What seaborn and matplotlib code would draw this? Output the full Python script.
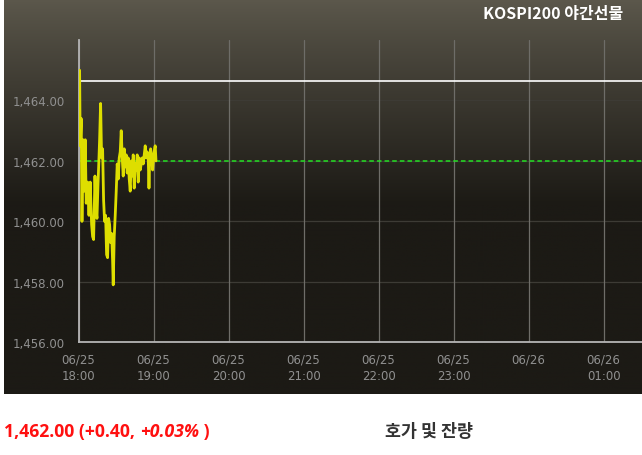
import numpy as np
import pandas as pd
import matplotlib
matplotlib.use("Agg")
import matplotlib.pyplot as plt
import seaborn as sns

# ---- data ----
minutes = [0.8, 1.3, 2.1, 2.7, 3.5, 4.5, 5.3, 6.1, 7.2, 8.3, 9.3, 10.4, 11.2, 12.0,
           13.1, 13.9, 14.7, 15.5, 16.3, 16.8, 17.6, 18.4, 19.2, 20.0, 20.8, 21.6,
           22.4, 23.2, 24.0, 24.8, 25.6, 26.4, 27.2, 27.7, 28.5, 29.3, 30.1, 30.9,
           31.7, 32.5, 33.3, 34.1, 34.9, 35.7, 36.5, 37.3, 38.1, 38.9, 39.7, 40.5,
           41.3, 42.1, 42.9, 43.7, 44.5, 45.3, 46.1, 46.9, 47.7, 48.5, 49.3, 50.1,
           50.9, 51.7, 52.5, 53.3, 54.1, 54.9, 55.7, 56.3, 56.8, 57.6, 58.4, 59.2,
           60.0, 60.8, 61.3, 61.9]
prices = [1465.0, 1462.5, 1463.4, 1460.0, 1462.7, 1461.0, 1462.7, 1460.6, 1461.3,
          1460.2, 1461.3, 1459.9, 1459.5, 1459.4, 1461.5, 1460.4, 1460.1, 1461.2,
          1462.1, 1462.7, 1463.9, 1462.1, 1462.4, 1460.7, 1460.0, 1460.2, 1458.9,
          1458.8, 1460.1, 1459.9, 1459.3, 1459.6, 1458.7, 1457.9, 1459.5, 1460.2,
          1461.0, 1461.9, 1461.4, 1462.1, 1462.3, 1463.0, 1462.1, 1461.5, 1462.4,
          1461.8, 1462.2, 1461.6, 1462.1, 1461.4, 1461.0, 1462.0, 1461.5, 1462.2,
          1461.1, 1461.9, 1461.7, 1462.2, 1461.3, 1462.1, 1461.7, 1461.9, 1462.1,
          1461.9, 1462.2, 1462.5, 1462.1, 1462.3, 1462.1, 1461.1, 1461.9, 1462.4,
          1462.2, 1461.7, 1462.1, 1462.4, 1462.5, 1462.0]
prev_close = 1462.0
high_line = 1464.63
y_ticks = [1456, 1458, 1460, 1462, 1464, 1466]
y_labels = ["1,456.00", "1,458.00", "1,460.00", "1,462.00", "1,464.00", ""]
x_ticks = [0, 60, 120, 180, 240, 300, 360, 420]
x_labels = ["06/25\n18:00", "06/25\n19:00", "06/25\n20:00", "06/25\n21:00",
            "06/25\n22:00", "06/25\n23:00", "06/26\n", "06/26\n01:00"]
title = "KOSPI200 야간선물"
price_text = "1,462.00 (+0.40, "
pct_text = "+0.03%"
close_paren = " )"
right_label = "호가 및 잔량"

df = pd.DataFrame({"minute": minutes, "price": prices})

sns.set_theme(style="dark")
plt.rcParams['font.family'] = ['Noto Sans CJK KR', 'DejaVu Sans']

W, H = 642, 456
fig = plt.figure(figsize=(W / 100, H / 100), dpi=100)
fig.patch.set_facecolor("white")

def px(x0, y0, x1, y1):
    return [x0 / W, 1 - y1 / H, (x1 - x0) / W, (y1 - y0) / H]

# background gradient panel
bg = fig.add_axes(px(4, 0, 642, 395))
top = np.array([92, 88, 76]) / 255
bot = np.array([28, 26, 21]) / 255
yy = np.linspace(0, 1, 400)
frac = np.clip(yy / 0.52, 0, 1) ** 0.9
grad = (top[None, :] * (1 - frac[:, None]) + bot[None, :] * frac[:, None])
grad = np.repeat(grad[:, None, :], 2, axis=1)
bg.imshow(grad, aspect="auto", extent=[0, 1, 0, 1])
bg.set_axis_off()

# main axes
x_left, x_right = 78.6, 642
y_top, y_bot = 41, 343.3
ax = fig.add_axes(px(x_left, y_top, x_right, y_bot))
ax.set_facecolor("none")
xmax = (x_right - x_left) / 75 * 60
ax.set_xlim(0, xmax)
ax.set_ylim(1456, 1466.0)

for v in y_ticks[:-1]:
    ax.axhline(v, color="#3d3b35", lw=0.9, zorder=1)
for t in x_ticks:
    ax.axvline(t, color="#6e6d68", lw=0.9, zorder=1)

ax.plot([2, xmax], [high_line, high_line], color="white", lw=1.2, zorder=2)
ax.axhline(prev_close, color="#22e022", lw=1.1, ls=(0, (3, 2)), zorder=2)

sns.lineplot(data=df, x="minute", y="price", ax=ax, color="#dede00", lw=2.0,
             zorder=3)

ax.set_xticks(x_ticks)
ax.set_xticklabels(x_labels, color="#8e8e8e", fontsize=8.5, linespacing=1.3,
                   family="DejaVu Sans")
ax.set_yticks(y_ticks)
ax.set_yticklabels(y_labels, color="#9a9a9a", fontsize=8.5, family="DejaVu Sans")
ax.tick_params(axis="both", length=7, width=1.2, colors="#b0b0b0",
               labelcolor="#909090")
ax.tick_params(axis="x", pad=0.5)
ax.tick_params(axis="y", pad=3)
for tl in ax.yaxis.get_ticklines():
    tl.set_clip_on(False)
ax.set_xlabel("")
ax.set_ylabel("")
ax.grid(False)
for s in ["top", "right"]:
    ax.spines[s].set_visible(False)
for s in ["left", "bottom"]:
    ax.spines[s].set_color("#b5b5b5")
    ax.spines[s].set_linewidth(1.3)

fig.text(623 / W, 1 - 14 / H, title, color="white", fontsize=11.5,
         fontweight="bold", ha="right", va="center")

fs = 12.7
t1 = fig.text(4 / W, 1 - 432 / H, price_text, color="#ff1010", fontsize=fs,
              fontweight="bold", ha="left", va="center",
              family=["Open Sans", "DejaVu Sans"])
fig.canvas.draw()
bb = t1.get_window_extent()
t2 = fig.text(bb.x1 / W, 1 - 432 / H, pct_text, color="#ff1010", fontsize=fs,
              fontweight="bold", style="italic", ha="left", va="center",
              family=["Open Sans", "DejaVu Sans"])
fig.canvas.draw()
bb2 = t2.get_window_extent()
fig.text(bb2.x1 / W, 1 - 432 / H, close_paren, color="#ff1010", fontsize=fs,
         fontweight="bold", ha="left", va="center",
         family=["Open Sans", "DejaVu Sans"])

fig.text(385 / W, 1 - 432 / H, right_label, color="#333333", fontsize=12.5,
         fontweight="bold", ha="left", va="center")

fig.savefig("out.png", dpi=100, facecolor="white")
